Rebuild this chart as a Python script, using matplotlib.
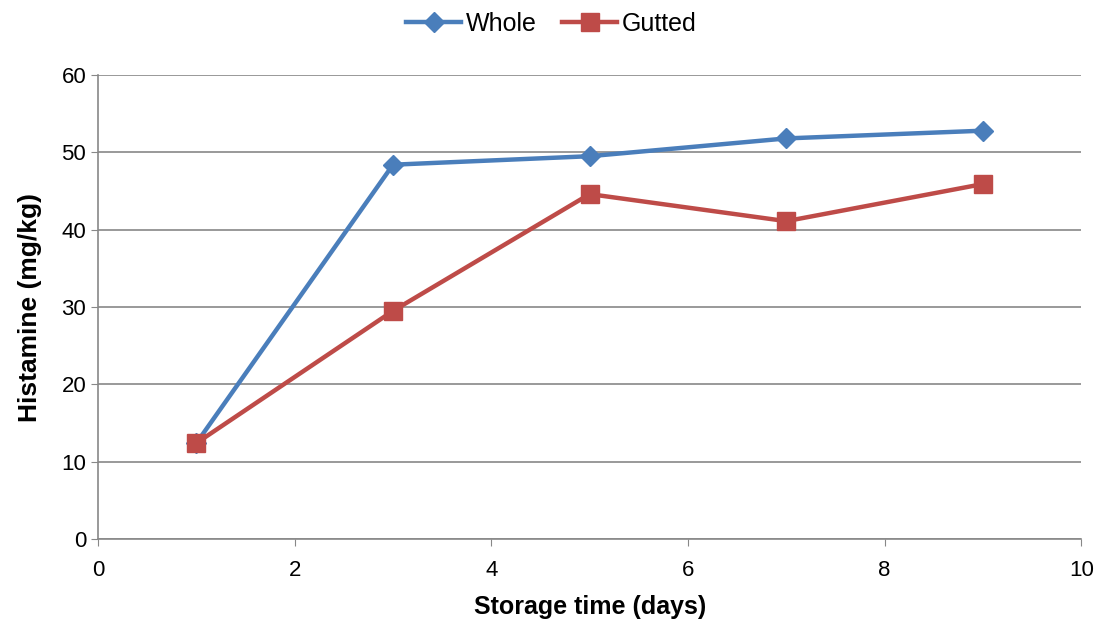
import matplotlib
matplotlib.use("Agg")
import matplotlib.pyplot as plt

plt.rcParams['font.family'] = ['Liberation Sans', 'DejaVu Sans']

days = [1, 3, 5, 7, 9]
whole = [12.4, 48.4, 49.5, 51.8, 52.8]
gutted = [12.4, 29.5, 44.6, 41.1, 45.9]
xticks = [0, 2, 4, 6, 8, 10]
yticks = [0, 10, 20, 30, 40, 50, 60]

fig = plt.figure(figsize=(11.03, 6.25), dpi=100)
ax = fig.add_axes([0.0889, 0.1376, 0.8914, 0.7424])

ax.plot(days, whole, color='#4A7EBB', lw=3.2, marker='D', ms=10, label='Whole', zorder=3)
ax.plot(days, gutted, color='#BE4B48', lw=3.2, marker='s', ms=12.5, label='Gutted', zorder=3)

ax.set_xlim(0, 10)
ax.set_ylim(0, 60)
ax.set_xticks(xticks)
ax.set_yticks(yticks)
ax.tick_params(labelsize=16, length=5, color='#888888', direction='out')
ax.tick_params(axis='x', pad=10)
ax.grid(axis='y', color='#888888', lw=1.2)
ax.set_axisbelow(True)
for s in ['top', 'right']:
    ax.spines[s].set_visible(False)
for s in ['left', 'bottom']:
    ax.spines[s].set_color('#888888')
    ax.spines[s].set_linewidth(1.2)

ax.set_xlabel('Storage time (days)', fontsize=18, fontweight='bold', labelpad=10)
ax.set_ylabel('Histamine (mg/kg)', fontsize=19, fontweight='bold', labelpad=14)

handles, labels = ax.get_legend_handles_labels()
fig.legend(handles, labels, loc='upper center', bbox_to_anchor=(0.5, 1.017), ncol=2,
           frameon=False, fontsize=18, handlelength=2.2, columnspacing=1.0,
           handletextpad=0.2)

fig.savefig('out.png', dpi=100)
